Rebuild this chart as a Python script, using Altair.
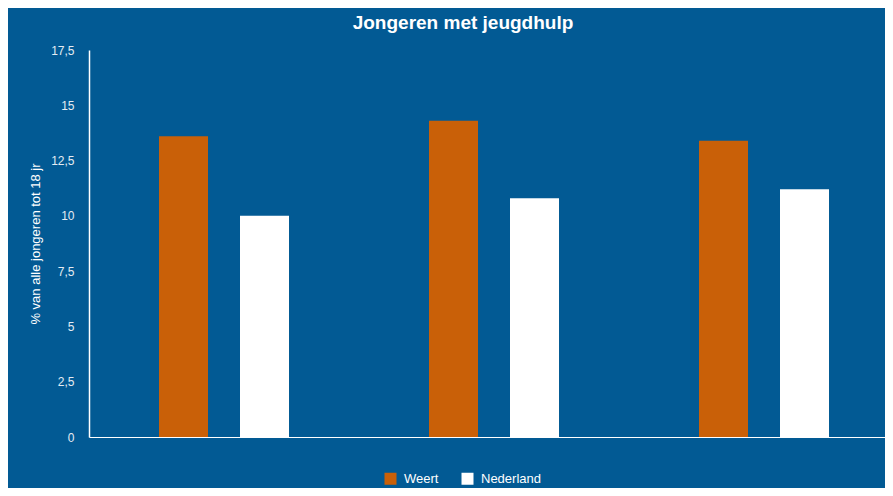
import altair as alt
import pandas as pd

# ---- data ----
periods = ["2019", "2020", "2021"]
weert = [13.6, 14.3, 13.4]
nederland = [10.0, 10.8, 11.2]
series = ["Weert", "Nederland"]
colors = ["#C96008", "#FFFFFF"]
y_ticks = [0, 2.5, 5, 7.5, 10, 12.5, 15, 17.5]

rows = []
for p, w, n in zip(periods, weert, nederland):
    rows.append({"periode": p, "regio": "Weert", "waarde": w})
    rows.append({"periode": p, "regio": "Nederland", "waarde": n})
df = pd.DataFrame(rows)

BG = "#025A94"
FONT = "Liberation Sans"

chart = alt.Chart(df).mark_bar().encode(
    x=alt.X(
        "periode:N",
        sort=periods,
        scale=alt.Scale(range=[0, 810], paddingInner=0, paddingOuter=0),
        axis=alt.Axis(labels=False, ticks=False, title=None,
                      domainColor="#FFFFFF", domainWidth=1),
    ),
    xOffset=alt.XOffset(
        "regio:N", sort=series,
        scale=alt.Scale(paddingInner=0.395, paddingOuter=0.864),
    ),
    y=alt.Y(
        "waarde:Q",
        scale=alt.Scale(domain=[0, 17.5], nice=False),
        axis=alt.Axis(
            values=y_ticks,
            labelExpr="replace(format(datum.value, '.1~f'), '.', ',')",
            ticks=False,
            grid=False,
            domainColor="#FFFFFF",
            domainWidth=1.5,
            labelColor="#E4ECF3",
            labelFontSize=12,
            labelFont=FONT,
            labelPadding=15,
            title="% van alle jongeren tot 18 jr",
            titleColor="#FFFFFF",
            titleFontSize=13,
            titleFontWeight="normal",
            titleFont=FONT,
            titlePadding=8,
        ),
    ),
    color=alt.Color(
        "regio:N",
        sort=series,
        scale=alt.Scale(domain=series, range=colors),
        legend=alt.Legend(
            title=None,
            orient="none",
            legendX=295,
            legendY=422,
            direction="horizontal",
            symbolType="square",
            symbolSize=144,
            symbolStrokeWidth=0,
            symbolOpacity=1,
            labelColor="#FFFFFF",
            labelFontSize=13,
            labelFont=FONT,
            labelOffset=7,
            columnPadding=22,
        ),
    ),
).properties(
    width=796,
    height=387,
    title=alt.Title(
        "Jongeren met jeugdhulp",
        color="#FFFFFF",
        fontSize=19,
        font=FONT,
        fontWeight="bold",
        anchor="middle",
        frame="group",
        dx=-24,
        offset=11,
    ),
    background=BG,
    autosize=alt.AutoSizeParams(type="none"),
    padding={"left": 81, "top": 42, "right": 0, "bottom": 51},
).configure_view(stroke=None)

chart.save("out.html", embed_options={"renderer": "svg", "actions": False})
